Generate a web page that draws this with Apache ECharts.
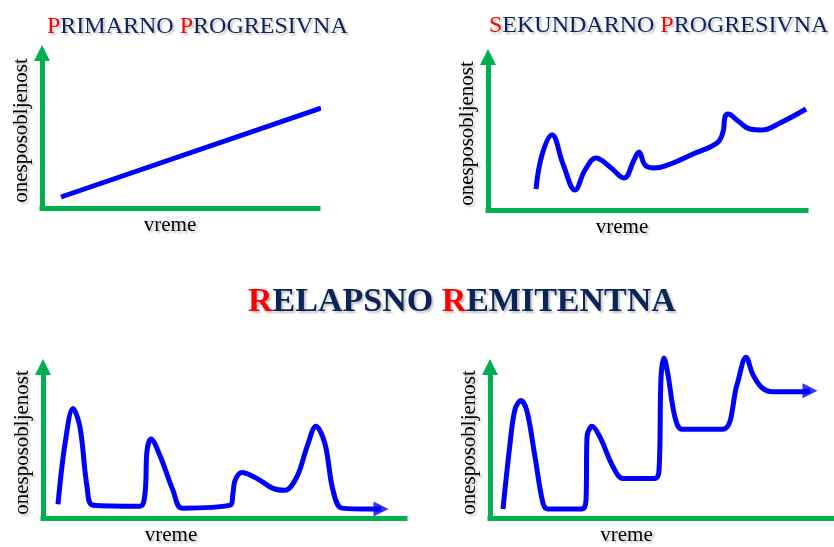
<!DOCTYPE html>
<html>
<head>
<meta charset="utf-8">
<script src="https://cdn.jsdelivr.net/npm/echarts@6/dist/echarts.min.js"></script>
<style>
html,body{margin:0;padding:0;background:#fff;}
#chart{width:834px;height:547px;}
</style>
</head>
<body>
<div id="chart"></div>
<script>
// Schematic courses (x = time units, y = disability units above the time axis)
var ppX = [19, 279];
var ppY = [11, 100];

var spX = [48, 54, 64, 75, 87, 97, 108, 122, 136, 146, 151, 157, 166, 185, 205, 229, 235, 237, 240, 250, 262, 274, 292, 318];
var spY = [21, 55, 75, 46, 20, 40, 52, 43, 32, 50, 58, 45, 42, 47, 56, 67, 78, 93, 96, 89, 81, 80, 87, 101];

var rr1X = [15, 22, 30, 37, 44, 50, 97, 102, 104, 108, 117, 130, 139, 187, 190, 192, 199, 214, 230, 242, 254, 264, 273, 282, 290, 299, 330, 338];
var rr1Y = [14, 75, 111, 92, 32, 13, 12, 25, 68, 80, 63, 28, 10, 13, 25, 38, 46, 40, 30, 28, 42, 72, 93, 75, 28, 10, 9, 9];

var rr2X = [13, 20, 25, 31, 37, 45, 53, 58, 92, 96, 97, 102, 110, 123, 133, 165, 169, 171, 174, 178, 185, 192, 233, 247, 256, 263, 272, 283, 313, 320];
var rr2Y = [9, 75, 110, 119, 108, 62, 15, 9, 9, 18, 82, 93, 82, 52, 40, 40, 48, 142, 162, 145, 102, 90, 90, 135, 163, 145, 132, 128, 128, 129];

var titlePP = ['P', 'RIMARNO ', 'P', 'ROGRESIVNA'];
var titleSP = ['S', 'EKUNDARNO ', 'P', 'ROGRESIVNA'];
var titleRR = ['R', 'ELAPSNO ', 'R', 'EMITENTNA'];
var yName = 'onesposobljenost';
var xName = 'vreme';

var GREEN = '#00B050', BLUE = '#0000FF', NAVY = '#0B2559', RED = '#FF0000';
var SERIF = "'Liberation Serif', 'Times New Roman', serif";

function pairs(xs, ys) { return xs.map(function (x, i) { return [x, ys[i]]; }); }

var panels = [
  {grid: {left: 42, right: 516, top: 53, bottom: 339}, xMax: 276, yMax: 155, xs: ppX, ys: ppY, arrow: false, smooth: false, namePad: [0, 20, 0, 0]},
  {grid: {left: 488, right: 28, top: 57, bottom: 337}, xMax: 318, yMax: 153, xs: spX, ys: spY, arrow: false, smooth: 0.4, namePad: [0, 50, 0, 0]},
  {grid: {left: 43, right: 429, top: 367, bottom: 27}, xMax: 362, yMax: 153, xs: rr1X, ys: rr1Y, arrow: true, smooth: 0.35, namePad: [0, 106, 0, 0]},
  {grid: {left: 490, right: 1, top: 367, bottom: 27}, xMax: 343, yMax: 153, xs: rr2X, ys: rr2Y, arrow: true, smooth: 0.35, namePad: [0, 70, 0, 0]}
];

var shadow = {textShadowColor: 'rgba(120,120,120,0.45)', textShadowBlur: 2, textShadowOffsetX: 2, textShadowOffsetY: 2};

var grids = [], xAxes = [], yAxes = [], series = [];
panels.forEach(function (p, i) {
  grids.push(p.grid);
  xAxes.push({
    type: 'value', gridIndex: i, min: 0, max: p.xMax,
    axisLine: {show: true, lineStyle: {color: GREEN, width: 5, cap: 'square'}},
    axisTick: {show: false}, axisLabel: {show: false}, splitLine: {show: false},
    name: xName, nameLocation: 'middle', nameGap: 7,
    nameTextStyle: Object.assign({fontFamily: SERIF, fontSize: 21, color: '#000', padding: p.namePad}, shadow)
  });
  yAxes.push({
    type: 'value', gridIndex: i, min: 0, max: p.yMax,
    axisLine: {show: true, symbol: ['none', 'triangle'], symbolSize: [16, 16], lineStyle: {color: GREEN, width: 5, cap: 'square'}},
    axisTick: {show: false}, axisLabel: {show: false}, splitLine: {show: false},
    name: yName, nameLocation: 'middle', nameGap: 10, nameRotate: 90,
    nameTextStyle: Object.assign({fontFamily: SERIF, fontSize: 21, color: '#000'}, shadow)
  });
  var d = pairs(p.xs, p.ys);
  series.push({
    type: 'line', xAxisIndex: i, yAxisIndex: i, data: d, symbol: 'none', smooth: p.smooth,
    clip: false, lineStyle: {color: BLUE, width: 5, cap: 'butt', join: 'round'}, z: 5, silent: true
  });
  if (p.arrow) {
    series.push({
      type: 'scatter', xAxisIndex: i, yAxisIndex: i, data: [d[d.length - 1]],
      symbol: 'triangle', symbolSize: [15, 15], symbolRotate: -90, clip: false,
      itemStyle: {color: BLUE}, z: 6, silent: true
    });
  }
});

function richTitle(parts, size, weight) {
  return {
    text: '{r|' + parts[0] + '}{n|' + parts[1] + '}{r|' + parts[2] + '}{n|' + parts[3] + '}',
    padding: 0,
    textStyle: {
      rich: {
        r: Object.assign({color: RED, fontFamily: SERIF, fontSize: size, fontWeight: weight}, shadow),
        n: Object.assign({color: NAVY, fontFamily: SERIF, fontSize: size, fontWeight: weight}, shadow)
      }
    }
  };
}

var t1 = richTitle(titlePP, 24, 'normal'); t1.left = 47; t1.top = 15;
var t2 = richTitle(titleSP, 24, 'normal'); t2.left = 489; t2.top = 14;
var t3 = richTitle(titleRR, 34, 'bold'); t3.left = 248; t3.top = 285;

var chart = echarts.init(document.getElementById('chart'));
chart.setOption({
  backgroundColor: '#fff',
  animation: false,
  title: [t1, t2, t3],
  grid: grids,
  xAxis: xAxes,
  yAxis: yAxes,
  series: series
});
</script>
</body>
</html>
